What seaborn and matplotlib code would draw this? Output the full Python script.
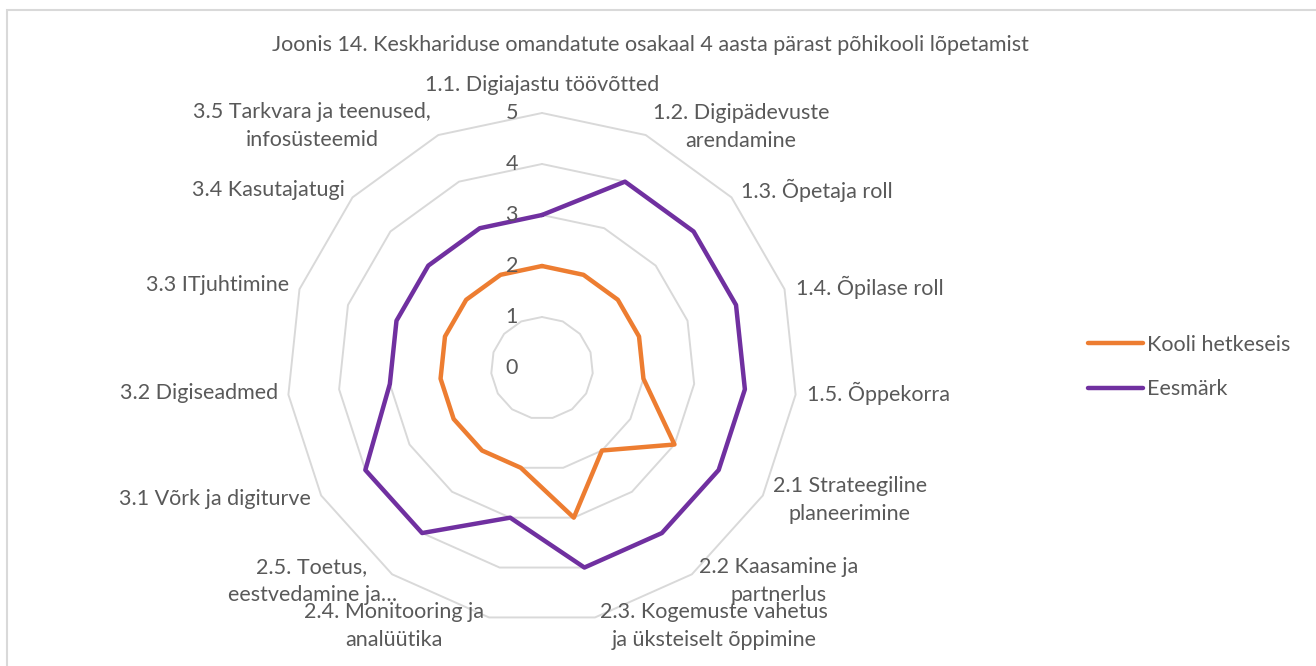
import numpy as np
import pandas as pd
import matplotlib
matplotlib.use("Agg")
import matplotlib.pyplot as plt
import seaborn as sns
from matplotlib.patches import Rectangle

categories = ["1.1. Digiajastu töövõtted", "1.2. Digipädevuste\narendamine", "1.3. Õpetaja roll",
              "1.4. Õpilase roll", "1.5. Õppekorra", "2.1 Strateegiline\nplaneerimine",
              "2.2 Kaasamine ja\npartnerlus", "2.3. Kogemuste vahetus\nja üksteiselt õppimine",
              "2.4. Monitooring ja\nanalüütika", "2.5. Toetus,\neestvedamine ja…",
              "3.1 Võrk ja digiturve", "3.2 Digiseadmed", "3.3 ITjuhtimine", "3.4 Kasutajatugi",
              "3.5 Tarkvara ja teenused,\ninfosüsteemid"]
kooli_hetkeseis = [2, 2, 2, 2, 2, 3, 2, 3, 2, 2, 2, 2, 2, 2, 2]
eesmark = [3, 4, 4, 4, 4, 4, 4, 4, 3, 4, 4, 3, 3, 3, 3]
series_names = ["Kooli hetkeseis", "Eesmärk"]
tick_values = [0, 1, 2, 3, 4, 5]
title = "Joonis 14. Keskhariduse omandatute osakaal 4 aasta pärast põhikooli lõpetamist"

sns.set_theme(style="white")
plt.rcParams['font.family'] = ['Lato', 'DejaVu Sans']

W, H = 1316, 666
fig = plt.figure(figsize=(W / 100, H / 100), dpi=100)
fig.patch.set_facecolor("white")

def px(x, y):
    return x / W, 1 - y / H

# chart frame
fig.patches.append(Rectangle(px(7, 700), (W + 20) / W, 690 / H, transform=fig.transFigure,
                             fill=False, edgecolor="#D9D9D9", linewidth=1.5))

cx, cy, unit = 542, 368, 51
lim = 6
ax = fig.add_axes([(cx - lim * unit) / W, (H - cy - lim * unit) / H, 2 * lim * unit / W, 2 * lim * unit / H])
ax.set_xlim(-lim, lim)
ax.set_ylim(-lim, lim)
ax.axis("off")

n = len(categories)
theta = np.arange(n) * 2 * np.pi / n

# polygon grid
for lv in tick_values[1:]:
    gx = np.append(lv * np.sin(theta), lv * np.sin(theta[0]))
    gy = np.append(lv * np.cos(theta), lv * np.cos(theta[0]))
    ax.plot(gx, gy, color="#D9D9D9", linewidth=1.4, zorder=1)

rows = []
for name, vals in zip(series_names, [kooli_hetkeseis, eesmark]):
    v = list(vals) + [vals[0]]
    t = list(theta) + [theta[0]]
    for i, (r, th) in enumerate(zip(v, t)):
        rows.append({"series": name, "order": i, "x": r * np.sin(th), "y": r * np.cos(th)})
df = pd.DataFrame(rows)

sns.lineplot(data=df, x="x", y="y", hue="series", sort=False, estimator=None,
             palette={"Kooli hetkeseis": "#ED7D31", "Eesmärk": "#7030A0"},
             linewidth=3.2, ax=ax, zorder=3, legend=True)
ax.set_xlabel("")
ax.set_ylabel("")

txtc = "#595959"
fs = 15.5

leg = ax.get_legend()
handles, labels = ax.get_legend_handles_labels()
leg.remove()
fig.legend(handles, labels, loc="center left", bbox_to_anchor=px(1088, 367), frameon=False,
           fontsize=fs, handlelength=2.55, handletextpad=0.2, labelspacing=1.15,
           borderpad=0, borderaxespad=0, labelcolor=txtc)

# tick labels
for v in tick_values:
    ax.text(-0.47, v, str(v), ha="right", va="center", fontsize=fs, color=txtc)

# category labels (pixel positions of text centres)
label_pos = [(542, 85), (741, 127), (817, 190), (870, 287), (878, 393), (850, 500),
             (779, 581), (714, 626), (394, 626), (312, 581), (215, 499), (199, 393),
             (218, 285), (268, 190), (312, 126)]
for lab, (lx, ly) in zip(categories, label_pos):
    fig.text(*px(lx, ly), lab, ha="center", va="center", fontsize=fs, color=txtc,
             linespacing=1.5)

fig.text(*px(650, 45), title, ha="center", va="center", fontsize=fs, color=txtc)

fig.savefig("out.png", dpi=100)
